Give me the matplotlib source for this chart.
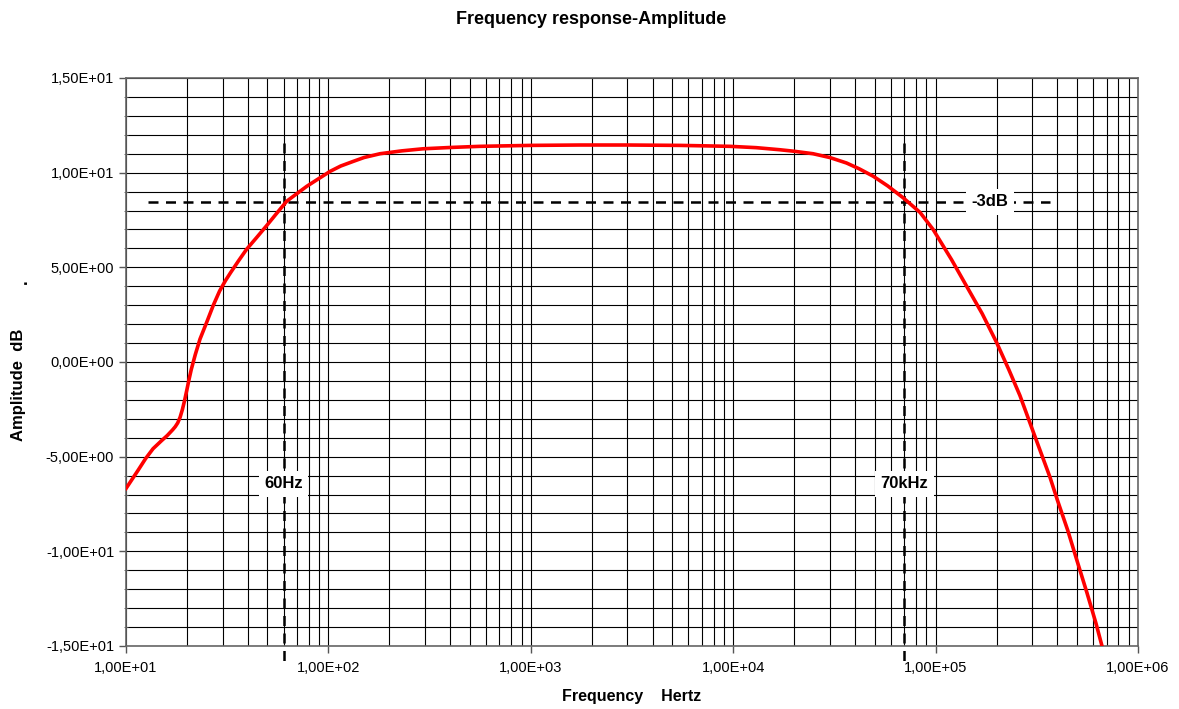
import numpy as np
import matplotlib.pyplot as plt
from matplotlib.ticker import FixedLocator, FuncFormatter, LogLocator, NullFormatter

plt.rcParams['font.family'] = ['Liberation Sans', 'DejaVu Sans']

# measured amplitude response
freq_hz = [10, 11.5, 12.5, 13.6, 15, 16, 17, 17.5, 18, 18.5, 19, 19.5, 20, 20.5, 21, 22, 23.2,
           25, 27, 29, 31, 33, 36, 39.4, 44, 49.5, 55, 62.2, 70, 78.2, 90, 102, 115, 133, 150,
           180, 230, 293, 400, 561, 1000, 1750, 3000, 5460, 9640, 13000, 17000, 20000,
           24800, 30000, 36300, 42000, 49200, 58000, 69200, 83800, 97200, 120000,
           142000, 170000, 200000, 230000, 261000, 304000, 367000, 400000, 450000,
           500000, 560000, 620000, 664000]
amp_db = [-6.68, -5.7, -5.1, -4.58, -4.15, -3.88, -3.58, -3.42, -3.22, -2.92, -2.5, -2.0, -1.45,
          -0.9, -0.4, 0.4, 1.21, 2.08, 3.0, 3.75, 4.3, 4.75, 5.35, 5.95, 6.55, 7.2, 7.8, 8.49,
          8.9, 9.28, 9.7, 10.07, 10.35, 10.6, 10.8, 11.0, 11.15, 11.26, 11.33, 11.39, 11.44,
          11.46, 11.46, 11.44, 11.39, 11.32, 11.21, 11.13, 11.0, 10.8, 10.51, 10.2, 9.81,
          9.3, 8.67, 7.9, 7.0, 5.4, 4.02, 2.55, 1.04, -0.4, -1.77, -3.7, -6.07, -7.3, -8.9,
          -10.5, -12.2, -13.8, -15.0]

peak_db = 11.46
cut_db = peak_db - 3
f_low = 60
f_high = 70000

def sci_comma(v, pos):
    return f"{v:.2E}".replace('.', ',')

fig = plt.figure(figsize=(11.79, 7.09), dpi=100)
ax = fig.add_axes([0.1069, 0.0889, 0.8583, 0.8011])

ax.set_xscale('log')
ax.set_xlim(10, 1e6)
ax.set_ylim(-15, 15)

ax.xaxis.set_major_locator(LogLocator(base=10, numticks=10))
ax.xaxis.set_minor_locator(LogLocator(base=10, subs=np.arange(2, 10), numticks=20))
ax.xaxis.set_major_formatter(FuncFormatter(sci_comma))
ax.xaxis.set_minor_formatter(NullFormatter())
ax.yaxis.set_major_locator(FixedLocator(np.arange(-15, 16, 5)))
ax.yaxis.set_minor_locator(FixedLocator(np.arange(-15, 16, 1)))
ax.yaxis.set_major_formatter(FuncFormatter(sci_comma))

ax.grid(which='both', color='black', linewidth=0.8)
ax.tick_params(axis='both', which='major', labelsize=10.5, length=5, width=1, color='#555555')
ax.tick_params(axis='x', which='minor', length=0)
ax.tick_params(axis='y', which='minor', length=3, direction='inout', color='#555555')
ax.tick_params(axis='x', pad=6)
for s in ax.spines.values():
    s.set_color('#666666')
    s.set_linewidth(1.2)

ax.plot(freq_hz, amp_db, color='red', linewidth=2.6, zorder=5, clip_on=True)

# -3 dB marker lines
dash = dict(color='black', linewidth=1.8, linestyle=(0, (4, 3)), zorder=4)
ax.plot([12.8, 367000], [cut_db, cut_db], **dash)
ax.plot([f_low, f_low], [11.58, -16.05], clip_on=False, **dash)
ax.plot([f_high, f_high], [11.58, -16.05], clip_on=False, **dash)

box = dict(facecolor='white', edgecolor='none', pad=4)
ax.text(f_low, -6.42, '60Hz', ha='center', va='center', fontsize=12,
        fontweight='bold', bbox=box, zorder=6)
ax.text(f_high, -6.42, '70kHz', ha='center', va='center', fontsize=12,
        fontweight='bold', bbox=box, zorder=6)
ax.text(186000, cut_db, '-3dB', ha='center', va='center', fontsize=12,
        fontweight='bold', bbox=box, zorder=6)

fig.text(591 / 1179, 1 - 19 / 709, 'Frequency response-Amplitude', ha='center', va='center',
         fontsize=13, fontweight='bold')
fig.text(632 / 1179, 1 - 697 / 709, 'Frequency    Hertz', ha='center', va='center',
         fontsize=11.5, fontweight='bold')
fig.text(19 / 1179, 1 - 385 / 709, 'Amplitude  dB', ha='center', va='center', rotation=90,
         fontsize=12, fontweight='bold')
fig.text(22 / 1179, 1 - 282 / 709, '.', ha='center', va='center', rotation=90,
         fontsize=12, fontweight='bold')

fig.savefig('out.png', dpi=100)
